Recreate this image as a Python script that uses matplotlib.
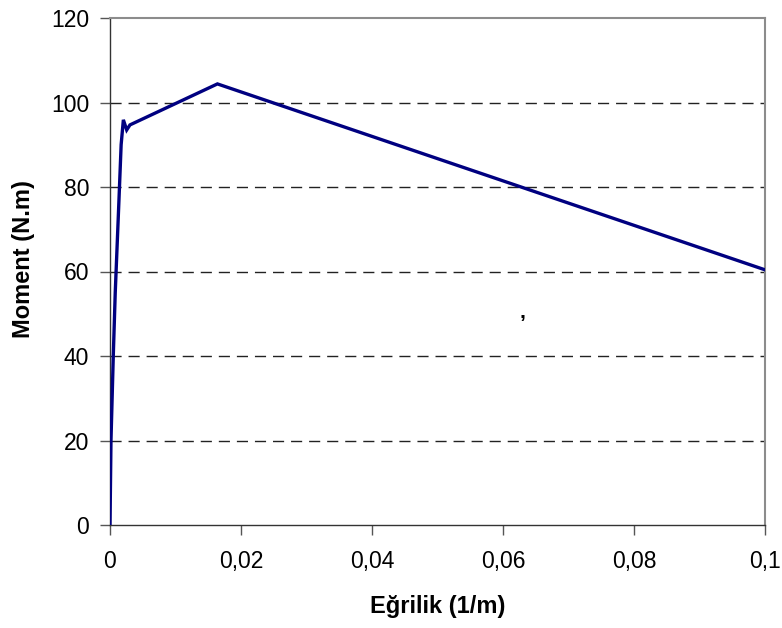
import matplotlib
matplotlib.use("Agg")
import matplotlib.pyplot as plt
from matplotlib.ticker import FuncFormatter

plt.rcParams['font.family'] = ['Liberation Sans', 'DejaVu Sans']

# Moment-curvature curve
curvature = [0.0, 0.00015, 0.0005, 0.0008, 0.00137, 0.0017, 0.00204, 0.00255, 0.00305, 0.0164, 0.1]
moment = [0.0, 20.0, 40.0, 55.0, 77.0, 90.0, 95.9, 93.5, 94.7, 104.4, 60.4]

x_ticks = [0, 0.02, 0.04, 0.06, 0.08, 0.1]
y_ticks = [0, 20, 40, 60, 80, 100, 120]

fig = plt.figure(figsize=(7.82, 6.28), dpi=100)
ax = fig.add_axes([110 / 782, 103 / 628, 655 / 782, 507 / 628])

ax.plot(curvature, moment, color='#000080', linewidth=2.4, solid_joinstyle='miter', zorder=3)

ax.set_xlim(0, 0.1)
ax.set_ylim(0, 120)
ax.set_xticks(x_ticks)
ax.set_yticks(y_ticks)


def comma_fmt(v, pos):
    s = f"{v:.2f}".rstrip('0').rstrip('.')
    return s.replace('.', ',')


ax.xaxis.set_major_formatter(FuncFormatter(comma_fmt))
ax.yaxis.set_major_formatter(FuncFormatter(lambda v, p: f"{int(round(v))}"))

for yv in y_ticks[1:-1]:
    ax.axhline(yv, color='#222222', linewidth=1.0, linestyle=(0, (8, 5)), zorder=1)

for side in ('top', 'right'):
    ax.spines[side].set_color('#8c8c8c')
    ax.spines[side].set_linewidth(1.5)
for side in ('left', 'bottom'):
    ax.spines[side].set_color('#333333')
    ax.spines[side].set_linewidth(1.0)

ax.tick_params(axis='both', direction='out', length=7, width=1.0, color='#555555',
               labelsize=16.5)
ax.tick_params(axis='x', pad=11)
ax.tick_params(axis='y', pad=8)

ax.set_xlabel('Eğrilik (1/m)', fontsize=17, fontweight='bold', labelpad=16)
ax.set_ylabel('Moment (N.m)', fontsize=17, fontweight='bold')
ax.yaxis.set_label_coords(-0.1145, 0.525)

ax.text(0.0629, 50.4, ',', fontsize=15, fontweight='bold', ha='center', va='center')

fig.savefig('out.png', dpi=100)
